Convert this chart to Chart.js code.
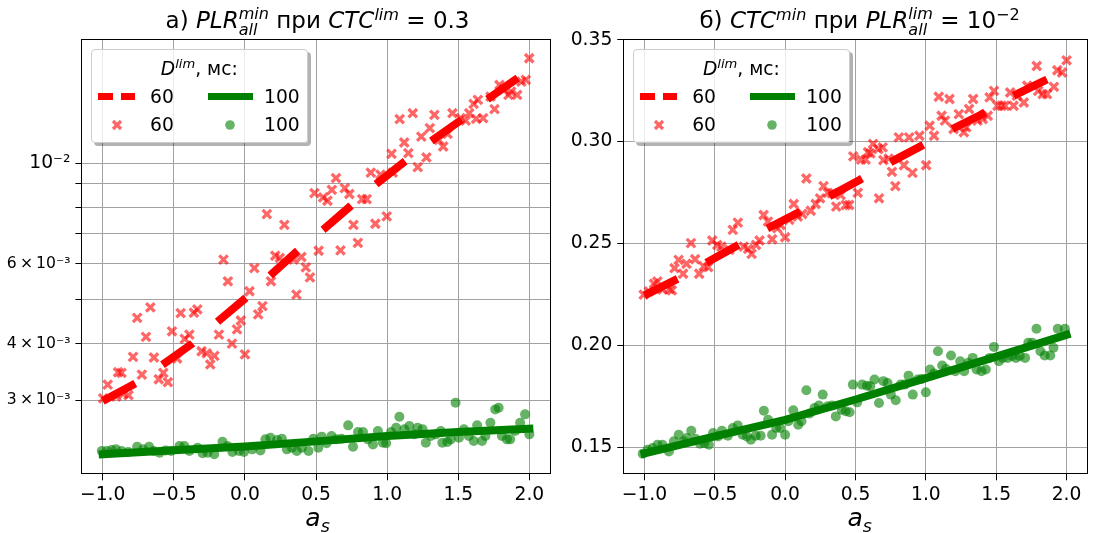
<!DOCTYPE html>
<html>
<head>
<meta charset="utf-8">
<script src="https://cdn.jsdelivr.net/npm/chart.js@4.4.1/dist/chart.umd.min.js"></script>
<style>
  body { margin: 0; width: 1097px; height: 533px; background: #fff; position: relative; overflow: hidden;
         font-family: "DejaVu Sans", sans-serif; color: #000; }
  canvas { position: absolute; top: 0; }
  .title, .xlab { position: absolute; text-align: center; white-space: nowrap; }
  .title { top: 6.8px; font-size: 23px; line-height: 27px; }
  .xlab { top: 503.3px; font-size: 25px; line-height: 30px; }
  .sp { font-size: 0.7em; position: relative; top: -0.5em; }
  .ss { position: relative; display: inline-block; font-size: 0.7em; line-height: 1; }
  .ss .up { position: relative; top: -0.52em; }
  .ss .dn { position: absolute; left: 0; top: 0.42em; }
  .sb { font-size: 0.7em; position: relative; top: 0.3em; }
  .leg { position: absolute; top: 49.3px; width: 217.5px; height: 93.4px; box-sizing: border-box;
         border: 1px solid #cccccc; border-radius: 4px; background: rgba(255,255,255,0.8);
         box-shadow: 3px 3px 0 rgba(0,0,0,0.3); font-size: 18.7px; line-height: 22px; }
  .leg .lt { position: absolute; left: 0; width: 100%; top: 7.3px; text-align: center; white-space: nowrap; }
  .leg .lab { position: absolute; white-space: nowrap; }
  .leg .dash { position: absolute; top: 42.6px; height: 7.5px; background: #ff0000; }
  .leg .bar { position: absolute; top: 42.6px; height: 7.5px; left: 116.5px; width: 44.5px; background: #008000; }
  .leg svg { position: absolute; }
</style>
</head>
<body>
<canvas id="left" width="560" height="533" style="left:0px"></canvas>
<canvas id="right" width="537" height="533" style="left:560px"></canvas>

<div class="title" style="left:81.4px;width:472.3px">а) <i>PLR</i><span class="ss"><i class="up">min</i><i class="dn">all</i></span> при <i>CTC</i><i class="sp">lim</i> = 0.3</div>
<div class="title" style="left:623.3px;width:472.7px">б) <i>CTC</i><i class="sp">min</i> при <i>PLR</i><span class="ss"><i class="up">lim</i><i class="dn">all</i></span> = 10<span class="sp">−2</span></div>
<div class="xlab" style="left:81.4px;width:472.3px"><i>a</i><i class="sb">s</i></div>
<div class="xlab" style="left:623.3px;width:472.7px"><i>a</i><i class="sb">s</i></div>
<div class="leg" id="legLeft" style="left:90.5px"></div>
<div class="leg" id="legRight" style="left:632.7px"></div>

<script>
// tick values
const xTicks = [-1, -0.5, 0, 0.5, 1, 1.5, 2];
const leftYTicks = [0.003, 0.004, 0.005, 0.006, 0.007, 0.008, 0.009, 0.01];
const leftYLabels = { 0.003: "3\u2009×\u200910⁻³", 0.004: "4\u2009×\u200910⁻³", 0.006: "6\u2009×\u200910⁻³", 0.01: "10⁻²" };
const rightYTicks = [0.15, 0.2, 0.25, 0.3, 0.35];
const legendLabels = ["60", "100"];

// а) PLR min, D = 60 (crosses)
const leftRedX = [-0.997,-0.965,-0.905,-0.892,-0.868,-0.855,-0.819,-0.787,-0.758,-0.725,
  -0.696,-0.665,-0.640,-0.606,-0.574,-0.542,-0.513,-0.477,-0.452,-0.423,
  -0.391,-0.359,-0.335,-0.305,-0.269,-0.244,-0.215,-0.183,-0.151,-0.120,
  -0.091,-0.056,-0.029,0.000,0.032,0.066,0.093,0.123,0.154,0.183,
  0.213,0.245,0.277,0.342,0.362,0.397,0.428,0.457,0.489,0.518,
  0.550,0.580,0.611,0.640,0.672,0.702,0.734,0.763,0.794,0.824,
  0.856,0.885,0.917,0.953,0.997,1.031,1.039,1.088,1.120,1.149,
  1.180,1.215,1.240,1.276,1.300,1.332,1.364,1.394,1.425,1.459,
  1.516,1.552,1.577,1.608,1.626,1.638,1.675,1.727,1.755,1.790,
  1.821,1.853,1.871,1.914,1.944,1.975,1.999];
const leftRedY = [3.03e-3,3.25e-3,3.06e-3,3.46e-3,3.45e-3,3.10e-3,3.08e-3,3.74e-3,4.56e-3,3.42e-3,
  4.14e-3,4.81e-3,3.73e-3,3.34e-3,3.45e-3,3.29e-3,4.26e-3,3.71e-3,4.67e-3,4.10e-3,
  4.19e-3,4.68e-3,4.76e-3,3.85e-3,3.81e-3,3.60e-3,3.76e-3,4.19e-3,6.13e-3,5.49e-3,
  4.00e-3,4.30e-3,4.50e-3,3.79e-3,5.22e-3,5.87e-3,4.64e-3,4.84e-3,7.72e-3,5.49e-3,
  6.25e-3,6.18e-3,7.31e-3,6.13e-3,5.13e-3,6.21e-3,5.89e-3,5.60e-3,8.59e-3,6.41e-3,
  8.40e-3,8.26e-3,8.73e-3,9.27e-3,6.42e-3,8.81e-3,8.55e-3,7.31e-3,6.67e-3,8.33e-3,
  8.33e-3,9.53e-3,7.35e-3,9.43e-3,7.63e-3,10.48e-3,9.53e-3,12.50e-3,11.10e-3,10.52e-3,
  12.88e-3,9.80e-3,11.44e-3,10.29e-3,11.94e-3,12.77e-3,11.25e-3,10.88e-3,11.60e-3,12.88e-3,
  12.56e-3,12.40e-3,12.88e-3,13.50e-3,12.52e-3,13.78e-3,12.56e-3,14.01e-3,13.15e-3,14.86e-3,
  14.55e-3,14.13e-3,14.37e-3,14.13e-3,15.12e-3,15.25e-3,17.02e-3];

// а) PLR min, D = 100 (circles)
const leftGreenX = [-1.007,-0.972,-0.937,-0.907,-0.867,-0.821,-0.758,-0.716,-0.674,-0.642,
  -0.600,-0.558,-0.519,-0.460,-0.426,-0.391,-0.333,-0.298,-0.263,-0.216,
  -0.158,-0.123,-0.088,-0.042,-0.007,0.051,0.109,0.144,0.179,0.226,
  0.260,0.295,0.330,0.365,0.400,0.447,0.481,0.516,0.540,0.574,
  0.609,0.644,0.679,0.726,0.760,0.795,0.830,0.865,0.900,0.935,
  0.970,0.993,1.028,1.063,1.086,1.121,1.156,1.191,1.214,1.249,
  1.272,1.307,1.342,1.377,1.388,1.423,1.447,1.481,1.505,1.540,
  1.574,1.609,1.633,1.667,1.691,1.726,1.760,1.784,1.807,1.842,
  1.865,1.900,1.935,1.970,2.000];
const leftGreenY = [2.320e-3,2.320e-3,2.332e-3,2.340e-3,2.320e-3,2.309e-3,2.372e-3,2.340e-3,2.372e-3,2.320e-3,
  2.301e-3,2.328e-3,2.320e-3,2.380e-3,2.380e-3,2.320e-3,2.360e-3,2.294e-3,2.301e-3,2.282e-3,
  2.433e-3,2.380e-3,2.309e-3,2.320e-3,2.309e-3,2.340e-3,2.328e-3,2.462e-3,2.483e-3,2.454e-3,
  2.470e-3,2.340e-3,2.360e-3,2.320e-3,2.360e-3,2.320e-3,2.470e-3,2.360e-3,2.496e-3,2.413e-3,
  2.504e-3,2.462e-3,2.470e-3,2.643e-3,2.372e-3,2.555e-3,2.555e-3,2.462e-3,2.400e-3,2.568e-3,
  2.421e-3,2.413e-3,2.555e-3,2.612e-3,2.762e-3,2.590e-3,2.634e-3,2.525e-3,2.612e-3,2.590e-3,
  2.421e-3,2.504e-3,2.525e-3,2.568e-3,2.421e-3,2.429e-3,2.462e-3,2.964e-3,2.483e-3,2.590e-3,
  2.504e-3,2.441e-3,2.643e-3,2.441e-3,2.504e-3,2.679e-3,2.866e-3,2.890e-3,2.504e-3,2.462e-3,
  2.462e-3,2.568e-3,2.679e-3,2.795e-3,2.525e-3];

// а) fitted curves
const leftRedLineX = [-1, -0.770, -0.582, -0.371, -0.183, 0.008, 0.171, 0.366, 0.550, 0.746, 0.916, 1.118, 1.307, 1.521, 1.699, 1.906, 2];
const leftRedLineY = [2.99e-3, 3.27e-3, 3.59e-3, 4.00e-3, 4.50e-3, 5.05e-3, 5.63e-3, 6.39e-3, 7.13e-3, 8.06e-3, 8.96e-3, 10.05e-3, 11.16e-3, 12.45e-3, 13.78e-3, 15.30e-3, 16.05e-3];
const leftGreenLineX = [-1, -0.5, 0, 0.5, 1, 1.5, 2];
const leftGreenLineY = [2.282e-3, 2.329e-3, 2.373e-3, 2.437e-3, 2.503e-3, 2.555e-3, 2.600e-3];

// б) CTC min, D = 60 (crosses)
const rightRedX = [-1.005,-0.968,-0.932,-0.908,-0.871,-0.822,-0.805,-0.786,-0.757,-0.725,
  -0.701,-0.669,-0.640,-0.611,-0.579,-0.547,-0.518,-0.482,-0.453,-0.397,
  -0.372,-0.336,-0.294,-0.263,-0.238,-0.207,-0.182,-0.153,-0.122,-0.092,
  -0.056,-0.032,0.000,0.029,0.061,0.090,0.122,0.151,0.182,0.217,
  0.248,0.273,0.304,0.333,0.363,0.394,0.431,0.455,0.484,0.516,
  0.540,0.572,0.589,0.606,0.625,0.662,0.667,0.693,0.698,0.735,
  0.759,0.783,0.808,0.844,0.881,0.905,0.954,1.002,1.027,1.058,
  1.092,1.112,1.136,1.168,1.197,1.234,1.270,1.287,1.307,1.336,
  1.367,1.404,1.440,1.453,1.484,1.509,1.538,1.562,1.599,1.623,
  1.647,1.696,1.720,1.788,1.798,1.830,1.861,1.910,1.934,1.968,2.000];
const rightRedY = [0.2249,0.2265,0.2303,0.2314,0.2274,0.2277,0.2270,0.2379,0.2420,0.2352,
  0.2401,0.2502,0.2423,0.2352,0.2388,0.2384,0.2515,0.2493,0.2485,0.2469,
  0.2567,0.2603,0.2485,0.2474,0.2449,0.2493,0.2515,0.2640,0.2608,0.2521,
  0.2575,0.2591,0.2531,0.2616,0.2694,0.2632,0.2645,0.2819,0.2661,0.2694,
  0.2722,0.2782,0.2749,0.2746,0.2681,0.2738,0.2689,0.2689,0.2928,0.2749,
  0.2912,0.2912,0.2948,0.2942,0.2989,0.2964,0.2722,0.2972,0.2909,0.2917,
  0.2852,0.2782,0.3021,0.2884,0.3021,0.2847,0.3029,0.2884,0.3078,0.3029,
  0.3220,0.3127,0.3103,0.3209,0.3062,0.3135,0.3046,0.3070,0.3160,0.3209,
  0.3103,0.3111,0.3127,0.3217,0.3249,0.3176,0.3176,0.3176,0.3241,0.3176,
  0.3225,0.3192,0.3274,0.3371,0.3249,0.3233,0.3233,0.3269,0.3350,0.3339,0.3399];

// б) CTC min, D = 100 (circles)
const rightGreenX = [-1.012,-0.977,-0.942,-0.907,-0.872,-0.826,-0.791,-0.756,-0.721,-0.698,
  -0.667,-0.635,-0.605,-0.574,-0.542,-0.512,-0.477,-0.449,-0.407,-0.372,
  -0.337,-0.302,-0.272,-0.244,-0.209,-0.174,-0.151,-0.121,-0.093,-0.063,
  -0.035,0.000,0.023,0.058,0.093,0.116,0.151,0.174,0.209,0.240,
  0.267,0.302,0.333,0.360,0.402,0.430,0.458,0.481,0.512,0.547,
  0.581,0.605,0.635,0.667,0.698,0.728,0.751,0.786,0.821,0.849,
  0.877,0.907,0.942,0.970,1.000,1.030,1.058,1.086,1.116,1.144,
  1.179,1.209,1.244,1.272,1.302,1.333,1.360,1.395,1.426,1.453,
  1.484,1.519,1.547,1.581,1.612,1.640,1.667,1.705,1.728,1.756,
  1.786,1.814,1.844,1.884,1.907,1.937,1.988];
const rightGreenY = [0.1469,0.1489,0.1497,0.1513,0.1513,0.1480,0.1530,0.1562,0.1530,0.1546,
  0.1582,0.1541,0.1518,0.1521,0.1513,0.1570,0.1554,0.1582,0.1557,0.1595,
  0.1608,0.1562,0.1554,0.1538,0.1557,0.1557,0.1680,0.1636,0.1562,0.1595,
  0.1595,0.1562,0.1628,0.1682,0.1611,0.1628,0.1780,0.1666,0.1693,0.1705,
  0.1759,0.1702,0.1705,0.1652,0.1685,0.1677,0.1672,0.1808,0.1721,0.1808,
  0.1803,0.1800,0.1833,0.1718,0.1825,0.1816,0.1759,0.1731,0.1808,0.1808,
  0.1852,0.1759,0.1833,0.1836,0.1770,0.1882,0.1862,0.1972,0.1902,0.1885,
  0.1951,0.1874,0.1923,0.1874,0.1915,0.1939,0.1882,0.1874,0.1882,0.1939,
  0.1993,0.1923,0.1939,0.1939,0.1948,0.1939,0.1948,0.1939,0.2013,0.2013,
  0.2082,0.1972,0.1951,0.1951,0.1989,0.2082,0.2082];

// б) fitted curves
const rightRedLineX = [-1, -0.757, -0.568, -0.336, -0.137, 0.094, 0.303, 0.532, 0.734, 0.965, 1.165, 1.391, 1.598, 1.829, 2];
const rightRedLineY = [0.2246, 0.2329, 0.2403, 0.2492, 0.2570, 0.2652, 0.2728, 0.2813, 0.2894, 0.2978, 0.3054, 0.3132, 0.3217, 0.3294, 0.3351];
const rightGreenLineX = [-1, -0.5, 0, 0.5, 1, 1.5, 2];
const rightGreenLineY = [0.1470, 0.1554, 0.1635, 0.1735, 0.1840, 0.1945, 0.2052];

const FONT = '"DejaVu Sans", sans-serif';
const RED = "#ff0000";
const GREEN = "#008000";
const RED_A = "rgba(255, 0, 0, 0.6)";
const GREEN_A = "rgba(0, 128, 0, 0.6)";
const GRID = "#a2a2a2";

const pts = (xs, ys) => xs.map((x, i) => ({ x, y: ys[i] }));
const fmtX = (v) => (v < 0 ? "\u2212" : "") + Math.abs(v).toFixed(1);

// matplotlib-like box: spines on all four sides
const spines = {
  id: "spines",
  afterDatasetsDraw(chart) {
    const { ctx, chartArea: a } = chart;
    const l = Math.round(a.left) + 0.5, t = Math.round(a.top) + 0.5;
    const r = Math.round(a.right) - 0.5, b = Math.round(a.bottom) - 0.5;
    ctx.save();
    ctx.strokeStyle = "#000";
    ctx.lineWidth = 1;
    ctx.strokeRect(l, t, r - l, b - t);
    ctx.restore();
  },
};

function buildDatasets(redX, redY, greenX, greenY, rlX, rlY, glX, glY) {
  return [
    {
      type: "line", data: pts(rlX, rlY), borderColor: RED, borderWidth: 8,
      borderDash: [37, 33], borderCapStyle: "butt", pointRadius: 0, fill: false, tension: 0, order: 0,
    },
    {
      type: "line", data: pts(glX, glY), borderColor: GREEN, borderWidth: 8,
      borderCapStyle: "square", pointRadius: 0, fill: false, tension: 0, order: 0,
    },
    {
      data: pts(redX, redY), pointStyle: "crossRot", pointRadius: 6, borderWidth: 3.3,
      borderColor: RED_A, backgroundColor: RED_A, order: 1,
    },
    {
      data: pts(greenX, greenY), pointStyle: "circle", pointRadius: 5, borderWidth: 0,
      backgroundColor: GREEN_A, order: 1,
    },
  ];
}

function xScale(height) {
  return {
    type: "linear", min: -1.15, max: 2.15,
    afterBuildTicks: (s) => { s.ticks = xTicks.map((v) => ({ value: v })); },
    afterFit: (s) => { s.height = height; },
    ticks: { callback: fmtX, font: { family: FONT, size: 18.7 }, color: "#000", padding: 4, autoSkip: false, maxRotation: 0, minRotation: 0 },
    grid: { color: GRID, lineWidth: 1, tickColor: "#000", tickLength: 6 },
    border: { display: false },
  };
}

function baseOptions(padRight, scales) {
  return {
    responsive: false,
    animation: false,
    events: [],
    layout: { padding: { top: 39.3, left: 0, right: padRight, bottom: 0 } },
    plugins: { legend: { display: false }, tooltip: { enabled: false } },
    scales,
  };
}

new Chart(document.getElementById("left"), {
  type: "scatter",
  data: { datasets: buildDatasets(leftRedX, leftRedY, leftGreenX, leftGreenY, leftRedLineX, leftRedLineY, leftGreenLineX, leftGreenLineY) },
  options: baseOptions(6.3, {
    x: xScale(58.7),
    y: {
      type: "logarithmic", min: 2.062e-3, max: 1.874e-2,
      afterBuildTicks: (s) => { s.ticks = leftYTicks.map((v) => ({ value: v })); },
      afterFit: (s) => { s.width = 81.4; },
      ticks: {
        callback: (v) => leftYLabels[v] || "",
        font: (c) => ({ family: FONT, size: c.tick && c.tick.value === 0.01 ? 18.7 : 15.6 }),
        color: "#000", padding: 5, autoSkip: false,
      },
      grid: { color: GRID, lineWidth: 1, tickColor: "#000", tickLength: 6 },
      border: { display: false },
    },
  }),
  plugins: [spines],
});

new Chart(document.getElementById("right"), {
  type: "scatter",
  data: { datasets: buildDatasets(rightRedX, rightRedY, rightGreenX, rightGreenY, rightRedLineX, rightRedLineY, rightGreenLineX, rightGreenLineY) },
  options: baseOptions(1, {
    x: xScale(58.7),
    y: {
      type: "linear", min: 0.1368, max: 0.3502,
      afterBuildTicks: (s) => { s.ticks = rightYTicks.map((v) => ({ value: v })); },
      afterFit: (s) => { s.width = 63.3; },
      ticks: { callback: (v) => v.toFixed(2), font: { family: FONT, size: 18.7 }, color: "#000", padding: 5, autoSkip: false },
      grid: { color: GRID, lineWidth: 1, tickColor: "#000", tickLength: 6 },
      border: { display: false },
    },
  }),
  plugins: [spines],
});

// legend: D^lim, мс
function legendHtml() {
  return `
    <div class="lt"><i>D</i><i class="sp">lim</i>, мс:</div>
    <div class="dash" style="left:6px;width:15.5px"></div>
    <div class="dash" style="left:29.5px;width:14px"></div>
    <div class="lab" style="left:58.5px;top:35.6px">${legendLabels[0]}</div>
    <div class="bar"></div>
    <div class="lab" style="left:172.5px;top:35.6px">${legendLabels[1]}</div>
    <svg style="left:19.3px;top:68.7px" width="12" height="12">
      <path d="M2 2 L10 10 M10 2 L2 10" stroke="${RED_A}" stroke-width="3.2" fill="none"/>
    </svg>
    <div class="lab" style="left:58.5px;top:63.3px">${legendLabels[0]}</div>
    <svg style="left:133.3px;top:69.8px" width="10" height="10">
      <circle cx="5" cy="5" r="4.8" fill="${GREEN_A}"/>
    </svg>
    <div class="lab" style="left:172.5px;top:63.3px">${legendLabels[1]}</div>`;
}
document.getElementById("legLeft").innerHTML = legendHtml();
document.getElementById("legRight").innerHTML = legendHtml();
</script>
